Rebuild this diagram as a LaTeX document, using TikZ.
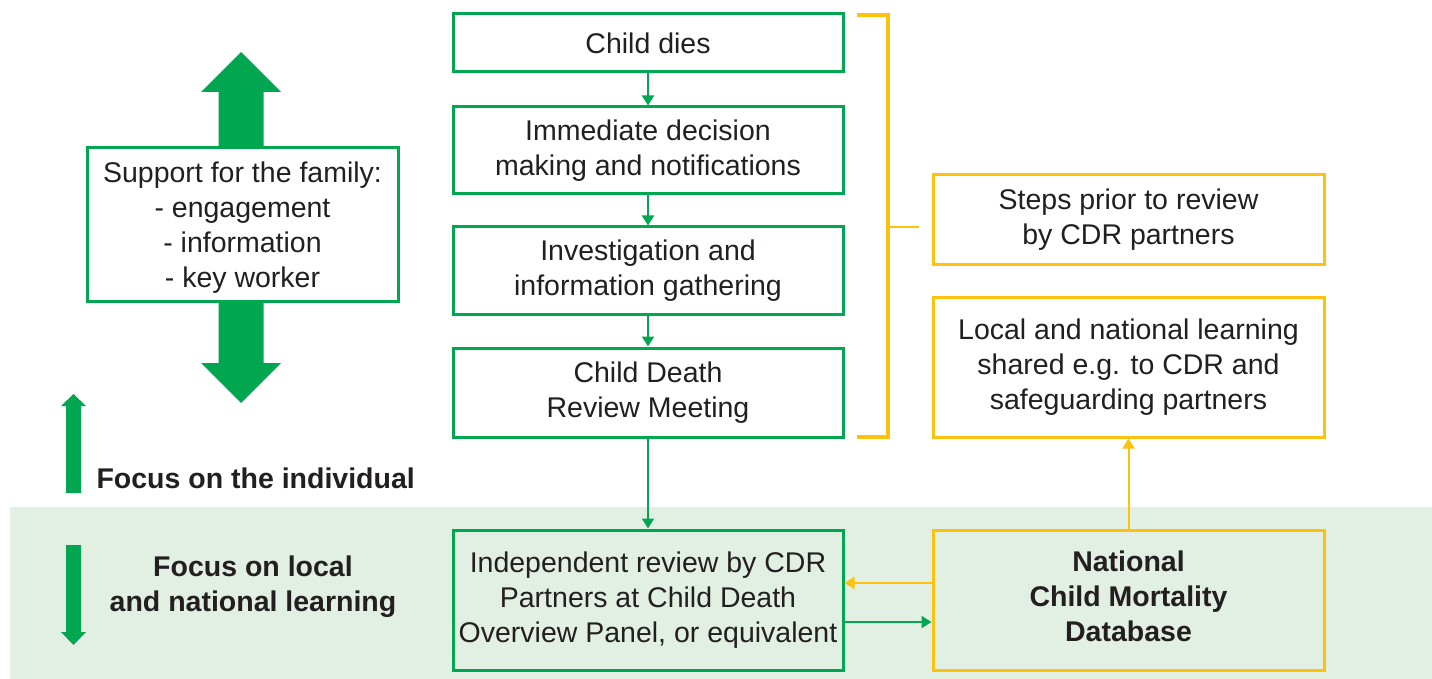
\documentclass[tikz,border=0pt]{standalone}
\usepackage{fontspec}
\setmainfont{Liberation Sans}
\usepackage{tikz}
\usetikzlibrary{arrows.meta,positioning}
\definecolor{cdrGreen}{HTML}{00A650}
\definecolor{cdrYellow}{HTML}{FDC10E}
\definecolor{cdrBand}{HTML}{E2F0E4}
\definecolor{cdrText}{HTML}{231F20}

\begin{document}
\begin{tikzpicture}[x=1pt, y=-1pt, font=\fontsize{28.5}{35}\selectfont, text=cdrText,
  gbox/.style={draw=cdrGreen, line width=3pt, fill=white, minimum width=390pt, align=center, inner sep=0pt},
  ybox/.style={draw=cdrYellow, line width=3pt, fill=white, minimum width=391pt, align=center, inner sep=0pt},
  gflow/.style={draw=cdrGreen, line width=2pt, -{Triangle[length=10pt,width=12pt]}},
  yflow/.style={draw=cdrYellow, line width=2pt, -{Triangle[length=10pt,width=12pt]}}]
\useasboundingbox (0,0) rectangle (1432,679);
% band for local and national learning
\fill[cdrBand] (10,507) rectangle (1432,679);
% big double arrow behind the family box
\fill[cdrGreen] (241,52) -- (281,92) -- (263.5,92) -- (263.5,363) -- (281,363) -- (241,403)
  -- (201,363) -- (218.5,363) -- (218.5,92) -- (201,92) -- cycle;
% focus arrows
\fill[cdrGreen] (73.5,394) -- (86,406) -- (81,406) -- (81,493) -- (66,493) -- (66,406) -- (61,406) -- cycle;
\fill[cdrGreen] (66,545) -- (81,545) -- (81,632) -- (86,632) -- (73.5,645) -- (61,632) -- (66,632) -- cycle;
\node[anchor=west, font=\fontsize{28.5}{35}\selectfont\bfseries] (indiv) at (93,478) {Focus on the individual};
\node[align=center, font=\fontsize{28.5}{35}\selectfont\bfseries] (natl) at (253,587) {Focus on local\\and national learning};

\node[gbox, minimum width=311pt, minimum height=153pt, text depth=-2pt] (family) at (242.5,224.5)
  {Support for the family:\\- engagement\\- information\\- key worker};

\node[gbox, minimum height=58pt] (dies) at (648,43) {Child dies};
\node[gbox, minimum height=87pt] (decide) at (648,150.5) {Immediate decision\\making and notifications};
\node[gbox, minimum height=87pt] (gather) at (648,270.5) {Investigation and\\information gathering};
\node[gbox, minimum height=89pt] (meeting) at (648,392.5) {Child Death\\Review Meeting};
\node[gbox, minimum height=140pt, fill=none] (panel) at (648,600)
  {Independent review by CDR\\Partners at Child Death\\Overview Panel, or equivalent};

\node[ybox, minimum height=89pt] (prior) at (1128.5,219.5) {Steps prior to review\\by CDR partners};
\node[ybox, minimum height=140pt] (shared) at (1128.5,367)
  {Local and national learning\\shared e.g. to CDR and\\safeguarding partners};
\node[ybox, minimum height=140pt, fill=none, text depth=8pt, font=\fontsize{28.5}{35}\selectfont\bfseries] (ncmd) at (1128.5,600)
  {National\\Child Mortality\\Database};

\draw[gflow] (dies) -- (decide);
\draw[gflow] (decide) -- (gather);
\draw[gflow] (gather) -- (meeting);
\draw[gflow] (meeting) -- (panel);
\draw[yflow] (ncmd) -- (shared);
\draw[yflow] (ncmd.west |- 0,583) -- (panel.east |- 0,583);
\draw[gflow] (panel.east |- 0,622) -- (ncmd.west |- 0,622);

% bracket over the steps before review
\coordinate (brtop) at (857,15);
\coordinate (brbot) at (857,437);
\coordinate (brmid) at (888,227);
\draw[cdrYellow, line width=4pt] (brtop) -- (888,15) -- (888,437) -- (brbot);
\draw[cdrYellow, line width=2.5pt] (brmid) -- ++(31,0);
\end{tikzpicture}
\end{document}
